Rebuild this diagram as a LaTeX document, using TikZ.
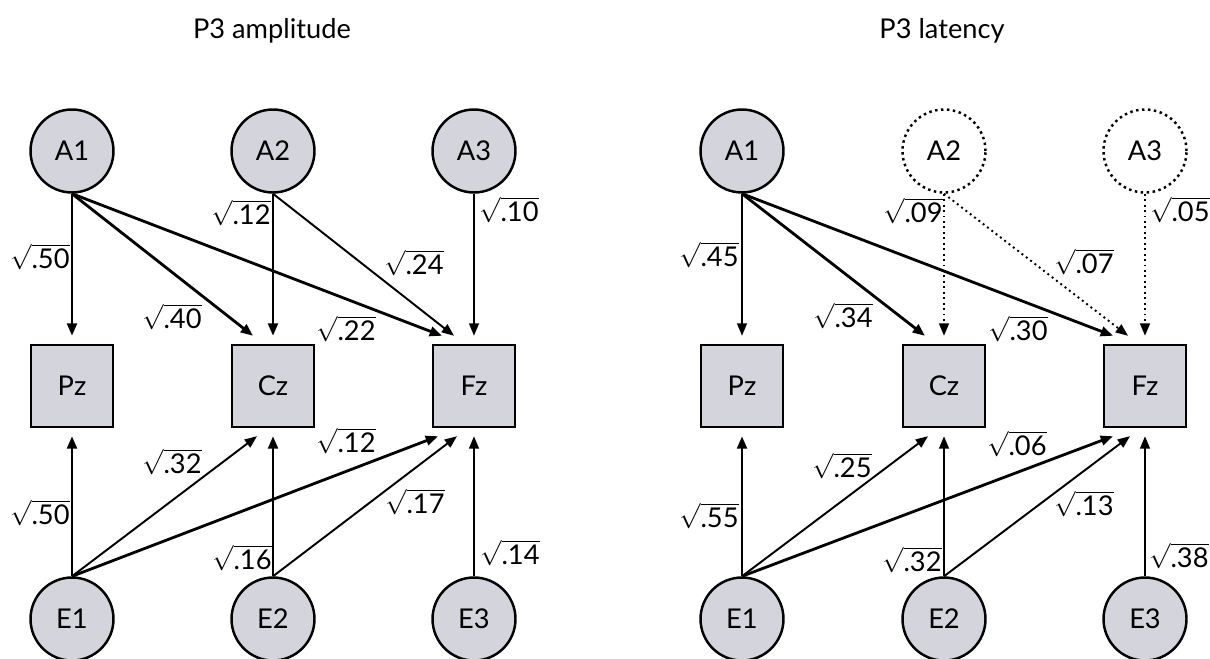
\documentclass[tikz,border=0pt]{standalone}
\usepackage{fontspec}
\setmainfont{Lato}
\usetikzlibrary{arrows.meta,calc}

\definecolor{nodegray}{RGB}{212,212,220}

\begin{document}
\begin{tikzpicture}[x=0.02cm,y=-0.02cm,
    font=\fontsize{15.5}{18}\selectfont,
    latent/.style={circle,draw,line width=1.4pt,fill=nodegray,
        minimum size=1.66cm,inner sep=0pt},
    weaklatent/.style={circle,draw,line width=1.4pt,dotted,
        minimum size=1.66cm,inner sep=0pt},
    observed/.style={rectangle,draw,line width=1.4pt,fill=nodegray,
        minimum size=1.64cm,inner sep=0pt},
    heavy/.style={line width=1.6pt,-{Triangle[length=7pt,width=5.5pt]}},
    light/.style={line width=1.1pt,-{Triangle[length=7pt,width=5.5pt]}},
    faint/.style={line width=1.1pt,dotted,-{Triangle[length=7pt,width=5.5pt]}},
    coef/.style={inner sep=0pt}
]
    \useasboundingbox (0,0) rectangle (1210,659);

    % titles
    \node[anchor=base] (tamp) at (272,38) {P3 amplitude};
    \node[anchor=base] (tlat) at (942,38) {P3 latency};

    % ---------- P3 amplitude ----------
    \node[latent]   (LA1) at (72,151)  {A1};
    \node[latent]   (LA2) at (273,151) {A2};
    \node[latent]   (LA3) at (474,151) {A3};
    \node[observed] (LPz) at (72,386)  {Pz};
    \node[observed] (LCz) at (273,386) {Cz};
    \node[observed] (LFz) at (474,386) {Fz};
    \node[latent]   (LE1) at (72,619)  {E1};
    \node[latent]   (LE2) at (273,619) {E2};
    \node[latent]   (LE3) at (474,619) {E3};

    \draw[heavy] (LA1.south) -- ($(LPz.north)+(0,-8)$);
    \draw[heavy] (LA1.south) -- ($(LCz.north)+(-20,-8)$);
    \draw[heavy] (LA1.south) -- ($(LFz.north)+(-32,-8)$);
    \draw[heavy] (LA2.south) -- ($(LCz.north)+(0,-8)$);
    \draw[light] (LA2.south) -- ($(LFz.north)+(-20,-8)$);
    \draw[light] (LA3.south) -- ($(LFz.north)+(0,-8)$);

    \draw[heavy] (LE1.north) -- ($(LPz.south)+(0,8)$);
    \draw[light] (LE1.north) -- ($(LCz.south)+(-16,8)$);
    \draw[heavy] (LE1.north) -- ($(LFz.south)+(-36,8)$);
    \draw[heavy] (LE2.north) -- ($(LCz.south)+(0,8)$);
    \draw[light] (LE2.north) -- ($(LFz.south)+(-17,8)$);
    \draw[light] (LE3.north) -- ($(LFz.south)+(0,8)$);

    \node[coef] (la1pz) at (40,257)  {$\sqrt{\mbox{.50}}$};
    \node[coef] (la1cz) at (172,317) {$\sqrt{\mbox{.40}}$};
    \node[coef] (la2cz) at (241,213) {$\sqrt{\mbox{.12}}$};
    \node[coef] (la2fz) at (414,263) {$\sqrt{\mbox{.24}}$};
    \node[coef] (la3fz) at (509,210) {$\sqrt{\mbox{.10}}$};
    \node[coef] (la1fz) at (346,329) {$\sqrt{\mbox{.22}}$};
    \node[coef] (le1cz) at (172,462) {$\sqrt{\mbox{.32}}$};
    \node[coef] (le1pz) at (40,513)  {$\sqrt{\mbox{.50}}$};
    \node[coef] (le2cz) at (242,558) {$\sqrt{\mbox{.16}}$};
    \node[coef] (le1fz) at (346,441) {$\sqrt{\mbox{.12}}$};
    \node[coef] (le2fz) at (415,502) {$\sqrt{\mbox{.17}}$};
    \node[coef] (le3fz) at (510,553) {$\sqrt{\mbox{.14}}$};

    % ---------- P3 latency ----------
    \node[latent]     (RA1) at (742,151)  {A1};
    \node[weaklatent] (RA2) at (944,151)  {A2};
    \node[weaklatent] (RA3) at (1145,151) {A3};
    \node[observed]   (RPz) at (742,386)  {Pz};
    \node[observed]   (RCz) at (944,386)  {Cz};
    \node[observed]   (RFz) at (1145,386) {Fz};
    \node[latent]     (RE1) at (742,619)  {E1};
    \node[latent]     (RE2) at (944,619)  {E2};
    \node[latent]     (RE3) at (1145,619) {E3};

    \draw[light] (RA1.south) -- ($(RPz.north)+(0,-8)$);
    \draw[heavy] (RA1.south) -- ($(RCz.north)+(-19,-8)$);
    \draw[heavy] (RA1.south) -- ($(RFz.north)+(-32,-8)$);
    \draw[faint] (RA2.south) -- ($(RCz.north)+(0,-8)$);
    \draw[faint] (RA2.south) -- ($(RFz.north)+(-17,-8)$);
    \draw[faint] (RA3.south) -- ($(RFz.north)+(0,-8)$);

    \draw[heavy] (RE1.north) -- ($(RPz.south)+(0,8)$);
    \draw[light] (RE1.north) -- ($(RCz.south)+(-16,8)$);
    \draw[heavy] (RE1.north) -- ($(RFz.south)+(-32,8)$);
    \draw[light] (RE2.north) -- ($(RCz.south)+(0,8)$);
    \draw[light] (RE2.north) -- ($(RFz.south)+(-15,8)$);
    \draw[light] (RE3.north) -- ($(RFz.south)+(0,8)$);

    \node[coef] (ra1pz) at (709,255)  {$\sqrt{\mbox{.45}}$};
    \node[coef] (ra1cz) at (843,316)  {$\sqrt{\mbox{.34}}$};
    \node[coef] (ra2cz) at (913,211)  {$\sqrt{\mbox{.09}}$};
    \node[coef] (ra2fz) at (1084,262) {$\sqrt{\mbox{.07}}$};
    \node[coef] (ra3fz) at (1180,210) {$\sqrt{\mbox{.05}}$};
    \node[coef] (ra1fz) at (1018,329) {$\sqrt{\mbox{.30}}$};
    \node[coef] (re1cz) at (842,466)  {$\sqrt{\mbox{.25}}$};
    \node[coef] (re1pz) at (709,516)  {$\sqrt{\mbox{.55}}$};
    \node[coef] (re2cz) at (912,560)  {$\sqrt{\mbox{.32}}$};
    \node[coef] (re1fz) at (1017,444) {$\sqrt{\mbox{.06}}$};
    \node[coef] (re2fz) at (1084,504) {$\sqrt{\mbox{.13}}$};
    \node[coef] (re3fz) at (1179,556) {$\sqrt{\mbox{.38}}$};

\end{tikzpicture}
\end{document}
